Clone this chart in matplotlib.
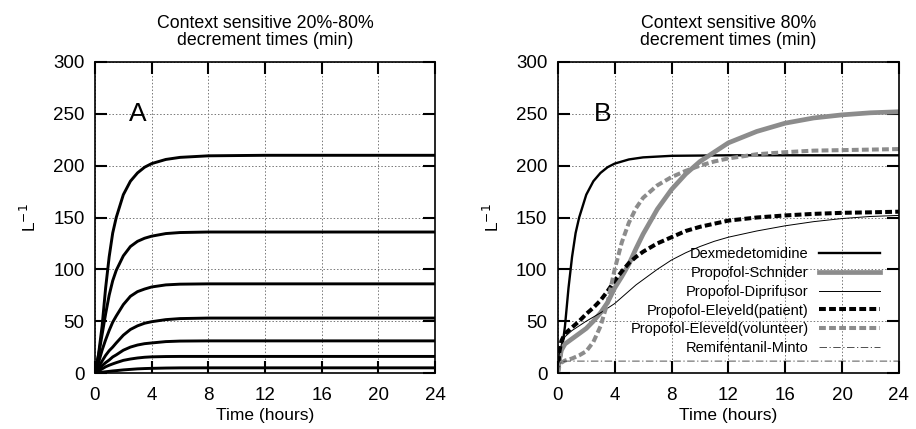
import matplotlib
matplotlib.use('Agg')
import matplotlib.pyplot as plt

plt.rcParams['font.family'] = ['Liberation Sans', 'DejaVu Sans']

# panel A: 20%-80% decrement times (hours -> minutes)
t_a = [0, 0.25, 0.5, 0.75, 1, 1.25, 1.5, 2, 2.5, 3, 3.5, 4, 5, 6, 8, 12, 16, 20, 24]
a_210 = [0, 18, 45, 82, 112, 135, 150, 172, 185, 193, 198.5, 202, 206, 208, 209.5, 210, 210, 210, 210]
a_136 = [0, 17, 37, 57, 75, 89, 99, 113, 122, 127, 130, 132, 134.5, 135.5, 136, 136, 136, 136, 136]
a_86 = [0, 10, 22, 32, 41, 49, 55, 66, 74, 78.5, 81, 83, 85, 85.7, 86, 86, 86, 86, 86]
a_53 = [0, 5.5, 11.5, 17, 21.5, 25, 29, 36.5, 42, 45.5, 48, 49.5, 51.5, 52.5, 53, 53, 53, 53, 53]
a_31 = [0, 3.5, 7, 10, 12.5, 15.5, 17.5, 22, 25, 27, 28.3, 29, 30.3, 30.8, 31, 31, 31, 31, 31]
a_16 = [0, 2, 4, 6, 7.5, 8.8, 10, 12.2, 13.5, 14.5, 15.2, 15.6, 15.9, 16, 16, 16, 16, 16, 16]
a_5 = [0, 0.4, 0.8, 1.2, 1.6, 2, 2.3, 3, 3.5, 4, 4.3, 4.5, 4.8, 4.95, 5, 5, 5, 5, 5]
curves_a = [a_210, a_136, a_86, a_53, a_31, a_16, a_5]

# panel B: 80% decrement times
t_b = [0, 0.1, 0.25, 0.5, 1, 1.5, 2, 2.5, 3, 3.5, 4, 4.5, 5, 5.5, 6, 7, 8, 9, 10,
       11, 12, 14, 16, 18, 20, 22, 24]
schnider = [0, 12, 22, 28, 33, 38, 43, 50, 58, 68, 82, 93, 105, 120, 134, 158, 177,
            192, 204, 213, 222, 233, 241, 246, 249, 251, 252]
diprifusor = [0, 18, 28, 35, 41, 45.5, 50, 54, 58, 62.5, 67, 73, 79, 85, 90, 100, 109,
              116, 122, 127, 131, 137, 142, 146, 149, 151, 152]
eleveld_pat = [0, 20, 31, 38, 44, 50, 57, 63, 70, 79, 89, 98, 106, 112, 117, 125, 131,
               137, 141, 144, 147, 150, 152, 153.5, 154.5, 155, 155.6]
eleveld_vol = [0, 6, 10, 12, 14, 17, 21, 30, 45, 68, 100, 126, 145, 159, 169, 181, 189,
               195, 200, 204, 207, 211, 213, 214.5, 215, 215.5, 216]
minto = [0, 7, 10.5] + [11.5] * 24

x_ticks = [0, 4, 8, 12, 16, 20, 24]
y_ticks = [0, 50, 100, 150, 200, 250, 300]
gray = '#8c8c8c'

fig = plt.figure(figsize=(9.16, 4.29), dpi=100)
ax_a = fig.add_axes([0.1037, 0.1305, 0.3712, 0.725])
ax_b = fig.add_axes([0.609, 0.1305, 0.3723, 0.725])


def style(ax, title, letter, lx):
    ax.set_xlim(0, 24)
    ax.set_ylim(0, 300)
    ax.set_xticks(x_ticks)
    ax.set_yticks(y_ticks)
    ax.tick_params(direction='in', length=8.5, width=1.5, top=True, right=True,
                   labelsize=13.5)
    ax.tick_params(axis='x', pad=10)
    ax.tick_params(axis='y', pad=7.5)
    ax.grid(True, color='#777777', linestyle=(0, (1.5, 2)), linewidth=0.7)
    for s in ax.spines.values():
        s.set_linewidth(1.2)
    ax.set_title(title, fontsize=12.8, pad=12, linespacing=1.05)
    ax.set_xlabel('Time (hours)', fontsize=12.5, labelpad=3)
    ax.set_ylabel(r'L$^{-1}$', fontsize=12.5, labelpad=10)
    ax.text(lx, 0.833, letter, transform=ax.transAxes, fontsize=19,
            ha='left', va='center')


for c in curves_a:
    ax_a.plot(t_a, c, color='black', linewidth=2.1)
style(ax_a, 'Context sensitive 20%-80%\ndecrement times (min)', 'A', 0.10)

ax_b.plot(t_a, a_210, color='black', linewidth=1.7, label='Dexmedetomidine')
ax_b.plot(t_b, schnider, color=gray, linewidth=3.4, label='Propofol-Schnider')
ax_b.plot(t_b, diprifusor, color='black', linewidth=0.7, label='Propofol-Diprifusor')
ax_b.plot(t_b, eleveld_pat, color='black', linewidth=2.9, linestyle=(0, (1.7, 0.8)),
          label='Propofol-Eleveld(patient)')
ax_b.plot(t_b, eleveld_vol, color=gray, linewidth=2.9, linestyle=(0, (1.7, 0.8)),
          label='Propofol-Eleveld(volunteer)')
ax_b.plot(t_b, minto, color='#333333', linewidth=0.6, linestyle=(0, (9, 3, 1.5, 3)),
          label='Remifentanil-Minto')
style(ax_b, 'Context sensitive 80%\ndecrement times (min)', 'B', 0.105)

ax_b.legend(loc='lower right', bbox_to_anchor=(0.945, 0.057), markerfirst=False,
            frameon=False, fontsize=10.5, handlelength=4.2, handletextpad=0.7,
            labelspacing=0.335, borderaxespad=0, borderpad=0)

fig.savefig('out.png', dpi=100)
